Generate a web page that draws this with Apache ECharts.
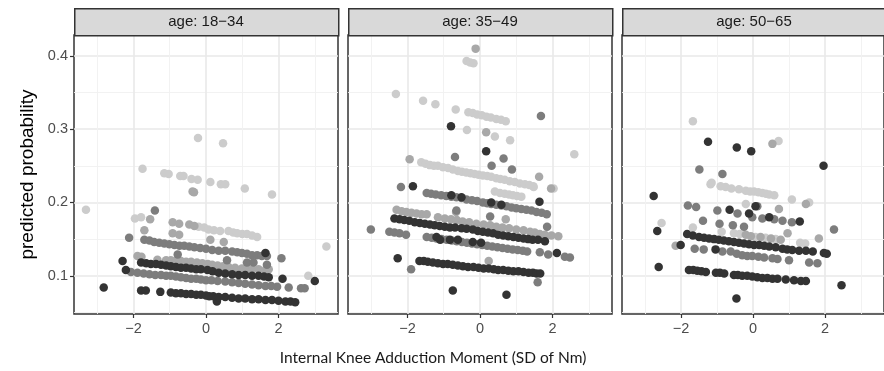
<!DOCTYPE html>
<html>
<head>
<meta charset="utf-8">
<script src="https://cdn.jsdelivr.net/npm/echarts@6/dist/echarts.min.js"></script>
<style>
  html, body { margin: 0; padding: 0; background: #fff; }
  #chart { width: 884px; height: 371px; }
</style>
</head>
<body>
<div id="chart"></div>
<script>
// Facet labels
const ageGroups = ['age: 18\u221234', 'age: 35\u221249', 'age: 50\u221265'];

// Axis breaks
const xMajorTicks = [-2, 0, 2];
const xMinorTicks = [-3, -1, 1, 3];
const yMajorTicks = [0.1, 0.2, 0.3, 0.4];
const yMinorTicks = [0.05, 0.15, 0.25, 0.35];

// Predicted probability vs knee adduction moment, four shade groups per age facet
const age18to34_lightest = [
  [-1.75,0.246],[-1.15,0.240],[-1.03,0.239],[-0.71,0.236],[-0.62,0.236],[-0.40,0.232],[-0.23,0.231],
  [0.12,0.228],[0.41,0.225],[0.53,0.225],[1.07,0.219],[1.82,0.211],
  [-0.22,0.288],[0.47,0.281],[-3.31,0.190],[3.32,0.140],[2.82,0.100],[-1.96,0.178],[-1.79,0.180],
  [-0.20,0.167],[-0.05,0.166],[0.07,0.163],[0.22,0.162],[0.39,0.161],[0.62,0.161],[0.75,0.159],
  [0.86,0.158],[1.00,0.157],[1.13,0.157],[1.27,0.155],[1.41,0.153]
];
const age18to34_light = [
  [-0.92,0.173],[-0.74,0.171],[-0.46,0.170],[-0.32,0.168],
  [-1.54,0.177],[-1.70,0.162],[-0.37,0.215],[-0.33,0.214],
  [-0.92,0.158],[-0.74,0.156],[0.12,0.149],[0.49,0.146],
  [-1.89,0.127],[-1.78,0.126],[-1.34,0.122],[-1.10,0.121],[-0.97,0.121],[-0.83,0.120],[-0.69,0.120],
  [-0.55,0.119],[-0.41,0.119],[-0.25,0.118],[-0.10,0.117],[0.05,0.116],[0.17,0.115],[0.32,0.114],
  [0.47,0.113],[0.62,0.112],[0.80,0.111],[0.99,0.110],[1.13,0.110],[1.27,0.109],[1.45,0.109],
  [1.64,0.108],[1.73,0.109]
];
const age18to34_mid = [
  [-1.41,0.189],[-2.12,0.152],
  [-1.70,0.149],[-1.56,0.148],[-1.43,0.146],[-1.29,0.145],[-1.15,0.144],[-1.01,0.143],[-0.87,0.142],
  [-0.73,0.141],[-0.60,0.141],[-0.46,0.140],[-0.32,0.139],[-0.16,0.138],[0.00,0.137],[0.17,0.135],
  [0.35,0.134],[0.53,0.134],[0.72,0.133],[0.86,0.132],[0.99,0.131],[1.13,0.130],[1.27,0.128],
  [1.41,0.128],[1.54,0.127],[1.68,0.127],
  [2.08,0.124],[-0.78,0.129],[0.58,0.121],[1.13,0.118],[1.31,0.118],[1.68,0.115],
  [-2.07,0.105],[-1.89,0.104],[-1.72,0.103],[-1.56,0.102],[-1.40,0.101],[-1.24,0.101],[-1.10,0.100],
  [-0.97,0.100],[-0.83,0.099],[-0.69,0.098],[-0.55,0.097],[-0.41,0.096],[-0.27,0.096],[-0.14,0.095],
  [0.00,0.094],[0.15,0.094],[0.32,0.093],[0.53,0.092],[0.72,0.091],[0.90,0.090],[1.08,0.089],
  [1.27,0.088],[1.45,0.087],[1.64,0.086],[1.80,0.086],[1.96,0.085],[2.28,0.084],[2.62,0.083],[2.72,0.083]
];
const age18to34_dark = [
  [-2.30,0.120],[-2.21,0.108],[-2.82,0.084],[2.11,0.096],[3.00,0.093],[1.64,0.131],[0.30,0.065],
  [-1.79,0.118],[-1.65,0.117],[-1.52,0.116],[-1.38,0.116],[-1.24,0.115],[-1.10,0.114],[-0.97,0.113],
  [-0.83,0.112],[-0.69,0.111],[-0.55,0.111],[-0.41,0.110],[-0.27,0.109],[-0.14,0.109],[0.04,0.108],
  [0.18,0.106],[0.35,0.104],[0.53,0.103],[0.72,0.102],[0.90,0.101],[1.08,0.101],[1.27,0.100],
  [1.45,0.100],[1.60,0.099],[1.73,0.098],
  [-1.79,0.080],[-1.66,0.080],[-1.26,0.078],[-0.97,0.077],[-0.83,0.076],[-0.69,0.076],[-0.55,0.075],
  [-0.41,0.075],[-0.27,0.074],[-0.14,0.074],[0.00,0.073],[0.09,0.072],[0.20,0.072],[0.35,0.071],
  [0.53,0.071],[0.72,0.070],[0.90,0.069],[1.08,0.069],[1.27,0.068],[1.45,0.068],[1.64,0.067],
  [1.82,0.067],[2.00,0.066],[2.19,0.065],[2.33,0.065],[2.46,0.064]
];

const age35to49_lightest = [
  [-0.37,0.393],[-0.27,0.391],[-0.18,0.390],
  [-2.32,0.348],[-1.57,0.339],[-1.23,0.334],[-0.67,0.327],
  [-0.32,0.323],[-0.20,0.322],[-0.08,0.320],[0.05,0.319],[0.18,0.317],[0.30,0.316],[0.45,0.314],
  [0.58,0.313],[0.71,0.311],
  [-0.36,0.299],[0.41,0.290],[0.83,0.285],[2.60,0.266],
  [-1.62,0.255],[-1.50,0.253],[-1.38,0.251],[-1.27,0.250],[-1.16,0.250],[-1.02,0.248],[-0.88,0.247],
  [-0.75,0.245],[-0.61,0.243],[-0.50,0.242],[-0.38,0.241],[-0.26,0.240],[-0.15,0.239],[-0.04,0.238],
  [0.08,0.237],[0.20,0.236],[0.31,0.235],[0.45,0.233],[0.56,0.232],[0.68,0.231],[0.82,0.229],
  [0.96,0.228],[1.10,0.226],[1.24,0.225],[1.36,0.224],[1.47,0.222],
  [0.41,0.215],[0.55,0.213],[0.68,0.212],[0.80,0.211],[0.91,0.210],[1.02,0.209],[1.14,0.208],
  [1.48,0.221],[2.03,0.219]
];
const age35to49_light = [
  [-0.12,0.410],[0.17,0.296],[1.63,0.235],[1.96,0.219],[0.71,0.177],[-0.66,0.187],[0.24,0.120],[-1.94,0.259],
  [-2.30,0.190],[-2.16,0.188],[-2.03,0.187],[-1.89,0.186],[-1.75,0.185],[-1.61,0.184],[-1.47,0.184],
  [-1.16,0.180],[-0.97,0.178],[-0.80,0.177],[-0.64,0.176],[-0.48,0.174],[-0.30,0.173],[-0.10,0.171],
  [0.10,0.170],[0.28,0.169],[0.45,0.167],[0.62,0.166],[0.80,0.165],[1.00,0.163],[1.20,0.162],
  [1.38,0.160],[1.51,0.159],[1.65,0.157],[1.79,0.156],[1.97,0.155],[2.16,0.154]
];
const age35to49_mid = [
  [1.68,0.318],[-0.69,0.262],[0.65,0.260],[0.32,0.250],[0.88,0.245],[-2.18,0.221],[-0.65,0.189],
  [0.28,0.181],[1.85,0.167],[1.59,0.091],[-1.90,0.109],[-3.01,0.163],
  [-1.47,0.213],[-1.35,0.212],[-1.22,0.211],[-1.07,0.210],[-0.93,0.209],[-0.79,0.208],[-0.65,0.207],
  [-0.51,0.206],[-0.37,0.204],[-0.22,0.203],[-0.08,0.202],[0.08,0.200],[0.20,0.199],[0.31,0.198],
  [0.45,0.197],[0.59,0.196],[0.73,0.195],[0.87,0.193],[1.00,0.192],[1.14,0.191],[1.28,0.190],
  [1.42,0.189],[1.56,0.187],[1.70,0.186],[1.84,0.184],
  [-2.50,0.160],[-2.36,0.159],[-2.22,0.158],[-2.04,0.156],
  [-1.47,0.153],[-1.33,0.152],[-1.20,0.151],[-1.06,0.150],[-0.92,0.149],[-0.78,0.148],[-0.64,0.147],
  [-0.50,0.146],[-0.36,0.145],[-0.22,0.144],[-0.08,0.143],[0.06,0.142],[0.20,0.141],[0.34,0.140],
  [0.48,0.139],[0.62,0.138],[0.76,0.137],[0.90,0.136],[1.04,0.135],[1.18,0.134],[1.30,0.133],
  [1.65,0.132],[1.88,0.129],[2.34,0.126],[2.48,0.125]
];
const age35to49_dark = [
  [-0.80,0.304],[0.17,0.270],[1.64,0.201],[-1.85,0.222],[-2.27,0.124],[-0.75,0.080],[0.73,0.074],[2.12,0.131],
  [-0.79,0.210],[-0.51,0.207],[0.31,0.200],[0.59,0.197],
  [-1.20,0.153],[-1.10,0.149],[-0.83,0.149],[-0.61,0.149],[-0.20,0.146],[0.03,0.145],
  [-2.36,0.178],[-2.22,0.177],[-2.09,0.176],[-1.95,0.175],[-1.80,0.173],[-1.66,0.172],[-1.52,0.171],
  [-1.38,0.170],[-1.25,0.169],[-1.11,0.168],[-0.97,0.167],[-0.83,0.166],[-0.69,0.166],[-0.51,0.165],
  [-0.37,0.164],[-0.20,0.163],[-0.06,0.161],[0.08,0.160],[0.22,0.159],[0.36,0.158],[0.50,0.156],
  [0.64,0.155],[0.78,0.154],[0.92,0.153],[1.06,0.152],[1.20,0.151],[1.33,0.150],[1.45,0.149],
  [1.60,0.149],[1.79,0.147],
  [-1.67,0.120],[-1.55,0.120],[-1.44,0.119],[-1.30,0.118],[-1.16,0.117],[-1.02,0.116],[-0.89,0.116],
  [-0.75,0.115],[-0.61,0.114],[-0.47,0.113],[-0.33,0.112],[-0.18,0.112],[-0.04,0.111],[0.10,0.110],
  [0.24,0.110],[0.38,0.109],[0.50,0.108],[0.64,0.108],[0.78,0.107],[0.92,0.106],[1.06,0.106],
  [1.20,0.105],[1.34,0.104],[1.46,0.104],[1.56,0.103],[1.66,0.103]
];

const age50to65_lightest = [
  [-1.67,0.311],[0.71,0.284],[-1.15,0.227],[-1.18,0.225],
  [-0.90,0.222],[-0.76,0.221],[-0.60,0.219],[-0.39,0.218],[-0.20,0.216],[-0.08,0.215],[0.03,0.215],
  [0.15,0.214],[0.26,0.213],[0.36,0.212],[0.45,0.211],[0.59,0.210],
  [1.08,0.204],[1.56,0.200],[-2.54,0.172],[-1.67,0.166],[-0.87,0.160],[-0.20,0.198],[1.31,0.145],[1.45,0.144],
  [-0.53,0.158],[-0.37,0.157],[0.07,0.153],[0.35,0.152],[0.63,0.150]
];
const age50to65_light = [
  [0.54,0.280],[1.47,0.198],[0.72,0.191],[0.96,0.158],[1.83,0.151],[-2.15,0.141],
  [-0.20,0.156],[-0.06,0.154],[0.21,0.153],[0.50,0.151],[0.77,0.149]
];
const age50to65_mid = [
  [-1.49,0.245],[-0.85,0.239],[-1.81,0.196],[-1.58,0.194],[-0.99,0.189],[-0.43,0.185],[0.12,0.195],
  [-0.02,0.180],[0.26,0.178],[0.59,0.177],[0.82,0.175],[1.08,0.173],[2.25,0.163],
  [-1.39,0.175],[-0.93,0.171],[-0.56,0.169],[-0.25,0.167],
  [-1.62,0.137],[-1.37,0.136],[-0.85,0.133],[-0.62,0.133],[-0.45,0.130],[-0.30,0.128],[-0.16,0.127],
  [-0.02,0.127],[0.15,0.126],[0.31,0.125],[0.54,0.124],[0.68,0.123],[1.00,0.121],[1.56,0.118],[1.79,0.117]
];
const age50to65_dark = [
  [-1.25,0.283],[-0.45,0.275],[-0.05,0.270],[1.96,0.250],[-2.76,0.209],[-0.65,0.190],[0.07,0.195],
  [-0.11,0.185],[0.45,0.180],[1.30,0.174],[-2.66,0.161],[-2.01,0.142],[-1.04,0.136],[-2.62,0.112],
  [2.46,0.087],[-0.46,0.069],
  [-1.83,0.157],[-1.67,0.155],[-1.50,0.153],[-1.36,0.152],[-1.22,0.151],[-1.08,0.150],[-0.95,0.149],
  [-0.81,0.148],[-0.67,0.147],[-0.53,0.146],[-0.39,0.145],[-0.25,0.144],[-0.11,0.143],[0.03,0.142],
  [0.17,0.142],[0.31,0.141],[0.45,0.140],[0.63,0.139],[0.82,0.137],[0.95,0.136],[1.09,0.135],
  [1.28,0.134],[1.47,0.134],[1.66,0.133],[1.97,0.131],[2.05,0.130],
  [-1.78,0.108],[-1.66,0.108],[-1.55,0.107],[-1.43,0.106],[-1.31,0.105],[-1.03,0.104],[-0.92,0.104],
  [-0.80,0.103],[-0.53,0.101],[-0.42,0.101],[-0.30,0.100],[-0.16,0.100],[-0.02,0.099],[0.12,0.098],
  [0.26,0.097],[0.40,0.097],[0.54,0.096],[0.68,0.096],[0.91,0.095],[1.14,0.094],[1.33,0.093],[1.47,0.093]
];

const panelSeries = [
  [age18to34_lightest, age18to34_light, age18to34_mid, age18to34_dark],
  [age35to49_lightest, age35to49_light, age35to49_mid, age35to49_dark],
  [age50to65_lightest, age50to65_light, age50to65_mid, age50to65_dark]
];

// ---- layout & style ----
const shadeColors = ['#cccccc', '#a8a8a8', '#7d7d7d', '#333333'];
const xRange = [-3.64, 3.64];
const yRange = [0.0478, 0.4286];
const panelLeft = [74, 348, 622];
const panelTop = 35, panelWidth = 264, panelHeight = 279;
const stripTop = 8, stripHeight = 27;
const tickFont = 'Liberation Sans, Arial, sans-serif';

const fmtX = v => (v < 0 ? '\u2212' + Math.abs(v) : String(v));

const grids = [], xAxes = [], yAxes = [], series = [], graphics = [];

panelLeft.forEach((left, i) => {
  grids.push({
    left: left, top: panelTop, width: panelWidth, height: panelHeight,
    show: true, backgroundColor: '#ffffff', borderColor: '#333333', borderWidth: 1.5
  });
  // major x gridlines, ticks and labels
  xAxes.push({
    type: 'value', gridIndex: i, min: xRange[0], max: xRange[1], position: 'bottom',
    axisLine: { show: false, onZero: false },
    axisTick: { show: true, customValues: xMajorTicks, length: 4, lineStyle: { color: '#333333', width: 1.2 } },
    axisLabel: { show: true, customValues: xMajorTicks, formatter: fmtX, color: '#4d4d4d',
                 fontSize: 14.5, fontFamily: tickFont, margin: 7 },
    splitLine: { show: true, lineStyle: { color: '#e9e9e9', width: 1.6 } }
  });
  // minor x gridlines
  xAxes.push({
    type: 'value', gridIndex: i, min: xRange[0], max: xRange[1], position: 'top',
    axisLine: { show: false, onZero: false },
    axisTick: { show: false, customValues: xMinorTicks },
    axisLabel: { show: false, customValues: xMinorTicks },
    splitLine: { show: true, lineStyle: { color: '#f1f1f1', width: 0.9 } }
  });
  yAxes.push({
    type: 'value', gridIndex: i, min: yRange[0], max: yRange[1], position: 'left',
    axisLine: { show: false, onZero: false },
    axisTick: { show: i === 0, customValues: yMajorTicks, length: 4, lineStyle: { color: '#333333', width: 1.2 } },
    axisLabel: { show: i === 0, customValues: yMajorTicks, formatter: v => v.toFixed(1), color: '#4d4d4d',
                 fontSize: 14.5, fontFamily: tickFont, margin: 6 },
    splitLine: { show: true, lineStyle: { color: '#e9e9e9', width: 1.6 } }
  });
  yAxes.push({
    type: 'value', gridIndex: i, min: yRange[0], max: yRange[1], position: 'right',
    axisLine: { show: false, onZero: false },
    axisTick: { show: false, customValues: yMinorTicks },
    axisLabel: { show: false, customValues: yMinorTicks },
    splitLine: { show: true, lineStyle: { color: '#f1f1f1', width: 0.9 } }
  });

  panelSeries[i].forEach((pts, k) => {
    series.push({
      type: 'scatter', xAxisIndex: i * 2, yAxisIndex: i * 2, data: pts,
      symbol: 'circle', symbolSize: 8.5, silent: true,
      itemStyle: { color: shadeColors[k], opacity: 1 }
    });
  });

  // facet strip
  graphics.push({
    type: 'rect', left: left, top: stripTop, z: 10,
    shape: { width: panelWidth, height: stripHeight },
    style: { fill: '#d9d9d9', stroke: '#333333', lineWidth: 1.5 }
  });
  graphics.push({
    type: 'text', x: left + panelWidth / 2, y: stripTop + stripHeight / 2 + 0.5, z: 11,
    style: { text: ageGroups[i], fill: '#1a1a1a', font: '15px ' + tickFont,
             textAlign: 'center', textVerticalAlign: 'middle' }
  });
});

// axis titles
graphics.push({
  type: 'text', x: 28, y: panelTop + panelHeight / 2, rotation: Math.PI / 2, z: 11,
  style: { text: 'predicted probability', fill: '#000000', font: '19px ' + tickFont,
           textAlign: 'center', textVerticalAlign: 'middle' }
});
graphics.push({
  type: 'text', x: 433, y: 358, z: 11,
  style: { text: 'Internal Knee Adduction Moment (SD of Nm)', fill: '#1a1a1a', font: '15.5px Lato, sans-serif',
           textAlign: 'center', textVerticalAlign: 'middle' }
});

const chart = echarts.init(document.getElementById('chart'), null, { renderer: 'canvas' });
chart.setOption({
  animation: false,
  backgroundColor: '#ffffff',
  grid: grids,
  xAxis: xAxes,
  yAxis: yAxes,
  series: series,
  graphic: graphics
});
</script>
</body>
</html>
